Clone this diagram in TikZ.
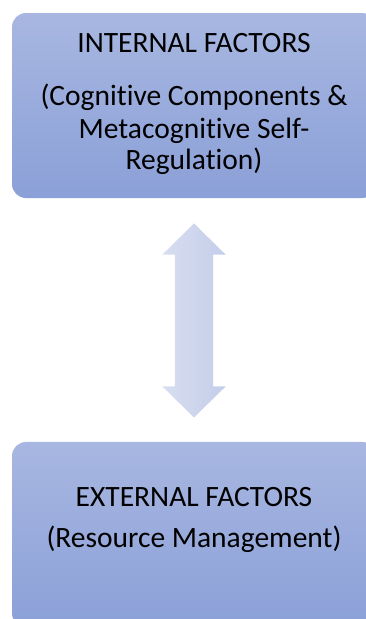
\documentclass[tikz,border=0pt]{standalone}
\usepackage{fontspec}
\setmainfont{Carlito}[Ligatures=NoCommon]
\usetikzlibrary{positioning,shapes.arrows}

\definecolor{boxtop}{RGB}{168,183,225}
\definecolor{boxbot}{RGB}{139,160,216}
\definecolor{arrowl}{RGB}{216,222,240}
\definecolor{arrowr}{RGB}{196,205,234}

\begin{document}
\begin{tikzpicture}[x=1pt,y=-1pt,
                    factor/.style={rounded corners=14pt,minimum width=364pt,minimum height=185pt,
                                   top color=boxtop,bottom color=boxbot,inner sep=0pt},
                    factortext/.style={font=\fontsize{29.5}{32}\selectfont,anchor=base,inner sep=0pt},
                    link/.style={double arrow,shape border rotate=90,minimum height=194pt,
                                 minimum width=63pt,double arrow head extend=12.5pt,
                                 double arrow tip angle=91,inner sep=19pt,
                                 left color=arrowl,right color=arrowr}]

  \useasboundingbox (0,0) rectangle (366,619);

  \node[factor] (int) at (194,105.5) {};
  \node[link]   (lnk) [below=25pt of int] {};
  \node[factor] (ext) [below=24pt of lnk] {};

  \node[factortext] (intname)  at ([yshift=-39.7pt]int.north)  {INTERNAL FACTORS};
  \node[factortext] (intpart1) at ([yshift=-93pt]int.north)    {(Cognitive Components \&};
  \node[factortext] (intpart2) at ([yshift=-125.3pt]int.north) {Metacognitive Self-};
  \node[factortext] (intpart3) at ([yshift=-156.3pt]int.north) {Regulation)};
  \node[factortext] (extname)  at ([yshift=-65pt]ext.north)    {EXTERNAL FACTORS};
  \node[factortext] (extpart)  at ([yshift=-105.7pt]ext.north) {(Resource Management)};
\end{tikzpicture}
\end{document}
